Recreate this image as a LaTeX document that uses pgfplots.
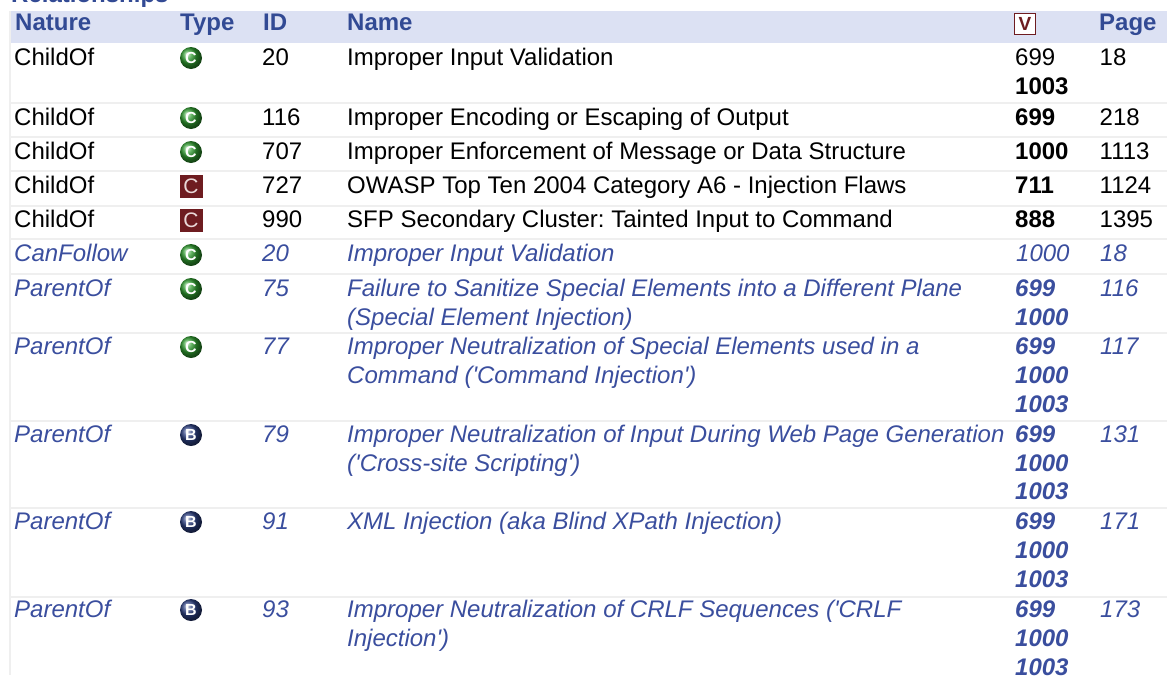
\documentclass[border=0pt]{standalone}
\usepackage{pgfplots}
\pgfplotsset{compat=1.18}
\usepackage{fontspec}
\setmainfont{Liberation Sans}[Ligatures=TeXOff]
\definecolor{hdrfill}{HTML}{DCE1F3}
\definecolor{hdrtext}{HTML}{324A94}
\definecolor{ital}{HTML}{3A4E9E}
\definecolor{sep}{HTML}{EFEFEF}
\definecolor{catgreen}{HTML}{2F9A2F}
\definecolor{basblue}{HTML}{2C3F80}
\definecolor{viewred}{HTML}{6E1C20}
\definecolor{paleletter}{HTML}{EAD8D8}
\newcommand{\fs}{\fontsize{24}{29}\selectfont\frenchspacing}
\newcommand{\TT}[3]{\node[anchor=base west,inner sep=0pt,font=\fs] at (axis cs:#1,#2) {#3};}
\newcommand{\HH}[2]{\node[anchor=base west,inner sep=0pt,font=\fs\bfseries,text=hdrtext] at (axis cs:#1,30.5) {#2};}
\newcommand{\IT}[3]{\node[anchor=base west,inner sep=0pt,font=\fs\itshape,text=ital] at (axis cs:#1,#2) {#3};}
\newcommand{\IB}[3]{\node[anchor=base west,inner sep=0pt,font=\fs\itshape\bfseries,text=ital] at (axis cs:#1,#2) {#3};}
\pgfplotsset{
  letter/.style n args={3}{nodes near coords={#1},nodes near coords align={anchor=center},
    every node near coord/.append style={inner sep=0pt,text=#3}},
}
\begin{document}
\begin{tikzpicture}[x=1pt,y=1pt]
\path[use as bounding box] (0,0) rectangle (1167pt,675pt);
\clip (0,0) rectangle (1167pt,675pt);
\begin{axis}[
  at={(0,0)},anchor=south west,
  width=1167pt,height=675pt,scale only axis,
  xmin=0,xmax=1167,ymin=0,ymax=675,y dir=reverse,
  hide axis,clip=false]
% header band
\addplot[draw=none,fill=hdrfill] coordinates {(10,10.5)(1167,10.5)(1167,43)(10,43)} -- cycle;
% separators
\addplot[sep,line width=1.4pt] coordinates {(10,11)(10,675)};
\addplot[sep,line width=1.4pt] coordinates {(10,103)(1167,103)};
\addplot[sep,line width=1.4pt] coordinates {(10,137)(1167,137)};
\addplot[sep,line width=1.4pt] coordinates {(10,171)(1167,171)};
\addplot[sep,line width=1.4pt] coordinates {(10,206)(1167,206)};
\addplot[sep,line width=1.4pt] coordinates {(10,239)(1167,239)};
\addplot[sep,line width=1.4pt] coordinates {(10,274)(1167,274)};
\addplot[sep,line width=1.4pt] coordinates {(10,333)(1167,333)};
\addplot[sep,line width=1.4pt] coordinates {(10,421)(1167,421)};
\addplot[sep,line width=1.4pt] coordinates {(10,508)(1167,508)};
\addplot[sep,line width=1.4pt] coordinates {(10,597)(1167,597)};
% type markers
\addplot[only marks,mark=ball,mark size=11pt,ball color=catgreen,draw=none,letter={C}{16}{white},
  every node near coord/.append style={font=\fontsize{16}{16}\selectfont\bfseries}] coordinates {(191,58)(191,118)(191,152)(191,255)(191,289)(191,347)};
\addplot[only marks,mark=ball,mark size=11pt,ball color=basblue,draw=none,letter={B}{16}{white},
  every node near coord/.append style={font=\fontsize{16}{16}\selectfont\bfseries}] coordinates {(191,435)(191,522)(191,610)};
\addplot[only marks,mark=square*,mark size=10.8pt,draw=viewred,fill=viewred,line width=0.4pt,letter={C}{21}{paleletter},
  every node near coord/.append style={font=\fontsize{21}{21}\selectfont}] coordinates {(191,186)(191,220)};
% view icon
\addplot[only marks,mark=square*,mark size=10.4pt,draw=viewred,fill=white,line width=1.2pt,letter={V}{19}{viewred},
  every node near coord/.append style={font=\fontsize{19}{19}\selectfont\bfseries}] coordinates {(1025,24)};
% title
\node[anchor=base west,inner sep=0pt,font=\fs\bfseries,text=hdrtext] at (axis cs:11,2) {Relationships};
% header
\HH{15}{Nature}\HH{180}{Type}\HH{263}{ID}\HH{347}{Name}\HH{1099}{Page}
% plain rows
\TT{14}{65}{ChildOf}\TT{262}{65}{20}\TT{347}{65}{Improper Input Validation}\TT{1015}{65}{699}\TT{1099.5}{65}{18}
\TT{1015}{94}{\bfseries 1003}
\TT{14}{125}{ChildOf}\TT{262}{125}{116}\TT{347}{125}{Improper Encoding or Escaping of Output}\TT{1015}{125}{\bfseries 699}\TT{1099.5}{125}{218}
\TT{14}{159}{ChildOf}\TT{262}{159}{707}\TT{347}{159}{Improper Enforcement of Message or Data Structure}\TT{1015}{159}{\bfseries 1000}\TT{1099.5}{159}{1113}
\TT{14}{193}{ChildOf}\TT{262}{193}{727}\TT{347}{193}{OWASP Top Ten 2004 Category A6 - Injection Flaws}\TT{1015}{193}{\bfseries 711}\TT{1099.5}{193}{1124}
\TT{14}{227}{ChildOf}\TT{262}{227}{990}\TT{347}{227}{SFP Secondary Cluster: Tainted Input to Command}\TT{1015}{227}{\bfseries 888}\TT{1099.5}{227}{1395}
% italic rows
\IT{14}{261}{CanFollow}\IT{262}{261}{20}\IT{347}{261}{Improper Input Validation}\IT{1016}{261}{1000}\IT{1100}{261}{18}
\IT{14}{296}{ParentOf}\IT{262}{296}{75}\IT{347}{296}{Failure to Sanitize Special Elements into a Different Plane}\IT{1100}{296}{116}
\IT{347}{325}{(Special Element Injection)}
\IB{1015}{296}{699}\IB{1015}{325}{1000}
\IT{14}{354}{ParentOf}\IT{262}{354}{77}\IT{347}{354}{Improper Neutralization of Special Elements used in a}\IT{1100}{354}{117}
\IT{347}{383}{Command ('Command Injection')}
\IB{1015}{354}{699}\IB{1015}{383}{1000}\IB{1015}{412}{1003}
\IT{14}{442}{ParentOf}\IT{262}{442}{79}\IT{347}{442}{Improper Neutralization of Input During Web Page Generation}\IT{1100}{442}{131}
\IT{347}{471}{('Cross-site Scripting')}
\IB{1015}{442}{699}\IB{1015}{471}{1000}\IB{1015}{499}{1003}
\IT{14}{529}{ParentOf}\IT{262}{529}{91}\IT{347}{529}{XML Injection (aka Blind XPath Injection)}\IT{1100}{529}{171}
\IB{1015}{529}{699}\IB{1015}{558}{1000}\IB{1015}{587}{1003}
\IT{14}{617}{ParentOf}\IT{262}{617}{93}\IT{347}{617}{Improper Neutralization of CRLF Sequences ('CRLF}\IT{1100}{617}{173}
\IT{347}{646}{Injection')}
\IB{1015}{617}{699}\IB{1015}{646}{1000}\IB{1015}{675}{1003}
\end{axis}
\end{tikzpicture}
\end{document}
